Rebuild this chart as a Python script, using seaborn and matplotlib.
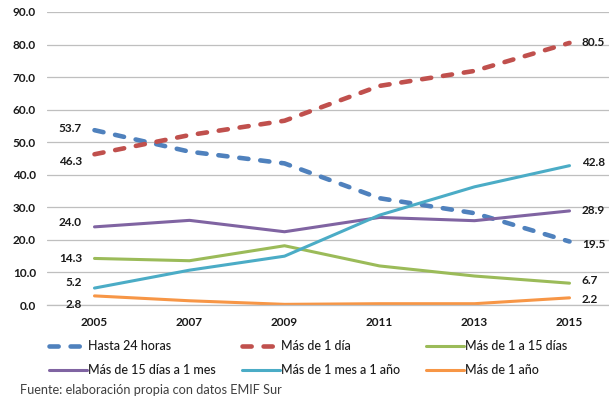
import matplotlib
matplotlib.use("Agg")
import matplotlib.pyplot as plt
import seaborn as sns
import numpy as np
import pandas as pd

# Años de la encuesta
years = ["2005", "2007", "2009", "2011", "2013", "2015"]

# Tiempo de estancia (porcentaje)
hasta_24h = [53.7, 47.1, 43.5, 32.8, 28.2, 19.5]
mas_1_dia = [46.3, 52.2, 56.6, 67.3, 71.9, 80.5]
mas_1_a_15 = [14.3, 13.6, 18.2, 12.0, 8.9, 6.7]
mas_15_a_1mes = [24.0, 26.0, 22.5, 26.9, 25.9, 28.9]
mas_1mes_a_1anio = [5.2, 10.7, 15.0, 27.6, 36.3, 42.8]
mas_1_anio = [2.8, 1.3, 0.2, 0.4, 0.4, 2.2]

names = ["Hasta 24 horas", "Más de 1 día", "Más de 1 a 15 días",
         "Más de 15 días a 1 mes", "Más de 1 mes a 1 año", "Más de 1 año"]
series = [hasta_24h, mas_1_dia, mas_1_a_15, mas_15_a_1mes, mas_1mes_a_1anio, mas_1_anio]
colors = ["#4F81BD", "#C0504D", "#9BBB59", "#8064A2", "#4BACC6", "#F79646"]
dashed = [True, True, False, False, False, False]

# Posición de las etiquetas (desplazamiento vertical en puntos)
left_dy = [1.5, -5, 0, 3, 4, -6]
right_dy = [-2, 0, 2, 0, 2, -1]

sns.set_theme(style="white")
plt.rcParams["font.family"] = ["Lato", "DejaVu Sans"]

fig = plt.figure(figsize=(6.09, 4.0), dpi=100)
ax = fig.add_axes([47 / 609, 95 / 400, 570 / 609, 293 / 400])

x = np.arange(len(years))
for name, vals, col, dsh in zip(names, series, colors, dashed):
    df = pd.DataFrame({"x": x, "y": vals})
    sns.lineplot(data=df, x="x", y="y", ax=ax, color=col, label=name,
                 linewidth=3.3 if dsh else 2.2)
    line = ax.lines[-1]
    if dsh:
        line.set_dashes((2.0, 2.6))
        line.set_dash_capstyle("round")
    line.set_solid_capstyle("round")

for vals, ldy, rdy in zip(series, left_dy, right_dy):
    ax.annotate(f"{vals[0]:.1f}", (x[0], vals[0]), xytext=(-9, ldy),
                textcoords="offset points", ha="right", va="center",
                fontsize=8.5, fontweight="bold", color="#1a1a1a")
    ax.annotate(f"{vals[-1]:.1f}", (x[-1], vals[-1]), xytext=(9, rdy),
                textcoords="offset points", ha="left", va="center",
                fontsize=8.5, fontweight="bold", color="#1a1a1a")

ax.set_xlim(-0.5, len(years) - 0.5)
ax.set_ylim(0, 90)
ax.set_yticks(np.arange(0, 91, 10))
ax.set_yticklabels([f"{v:.1f}" for v in np.arange(0, 91, 10)])
ax.set_xticks(x)
ax.set_xticklabels(years)
ax.set_xlabel("")
ax.set_ylabel("")
ax.grid(axis="y", color="#BFBFBF", linewidth=0.9)
ax.set_axisbelow(True)
for s in ["left", "right", "top"]:
    ax.spines[s].set_visible(False)
ax.spines["bottom"].set_color("#BFBFBF")
ax.spines["bottom"].set_linewidth(0.9)
ax.tick_params(axis="both", length=0, labelsize=8.5, colors="#1a1a1a")
ax.tick_params(axis="y", pad=8)
ax.tick_params(axis="x", pad=9)
for lbl in ax.get_xticklabels() + ax.get_yticklabels():
    lbl.set_fontweight("bold")

handles, labels = ax.get_legend_handles_labels()
ax.get_legend().remove()
order = [0, 3, 1, 4, 2, 5]
leg = fig.legend([handles[i] for i in order], [labels[i] for i in order],
                 loc="upper left", bbox_to_anchor=(49 / 609, 1 - 340 / 400),
                 ncol=3, frameon=False, fontsize=9, handlelength=3.0,
                 handletextpad=0.12, columnspacing=2.1, labelspacing=0.95,
                 borderpad=0, borderaxespad=0)
for t in leg.get_texts():
    t.set_color("#1a1a1a")
    t.set_fontweight("medium")

fig.text(20 / 609, 1 - 390 / 400, "Fuente: elaboración propia con datos EMIF Sur",
         ha="left", va="center", fontsize=9.2, color="#404040")

fig.savefig("out.png", dpi=100)
